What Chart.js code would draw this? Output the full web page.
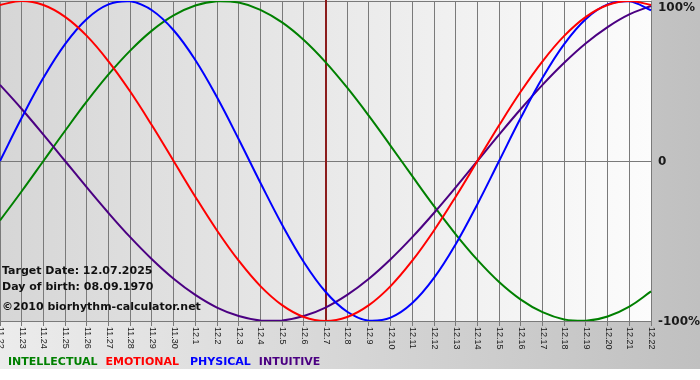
<!DOCTYPE html>
<html><head><meta charset="utf-8">
<script src="https://cdn.jsdelivr.net/npm/chart.js@4.4.1/dist/chart.umd.min.js"></script>
<style>html,body{margin:0;padding:0;background:#fff}canvas{display:block}</style>
</head><body>
<canvas id="c" width="700" height="380"></canvas>
<script>
// ---- data ----
const dates = ['11.22','11.23','11.24','11.25','11.26','11.27','11.28','11.29','11.30',
  '12.1','12.2','12.3','12.4','12.5','12.6','12.7','12.8','12.9','12.10','12.11','12.12',
  '12.13','12.14','12.15','12.16','12.17','12.18','12.19','12.20','12.21','12.22'];
const physical     = [0,27.0,52.0,73.1,88.8,97.9,99.8,94.2,81.7,63.1,39.8,13.6,-13.6,-39.8,-63.1,-81.7,-94.2,-99.8,-97.9,-88.8,-73.1,-52.0,-27.0,0,27.0,52.0,73.1,88.8,97.9,99.8,94.2];
const emotional    = [97.5,100,97.5,90.1,78.2,62.3,43.4,22.3,0,-22.3,-43.4,-62.3,-78.2,-90.1,-97.5,-100,-97.5,-90.1,-78.2,-62.3,-43.4,-22.3,0,22.3,43.4,62.3,78.2,90.1,97.5,100,97.5];
const intellectual = [-37.2,-18.9,0,18.9,37.2,54.1,69.0,81.5,91.0,97.2,99.9,99.0,94.5,86.6,75.6,61.8,45.8,28.2,9.5,-9.5,-28.2,-45.8,-61.8,-75.6,-86.6,-94.5,-99.0,-99.9,-97.2,-91.0,-81.5];
const intuitive    = [47.6,32.5,16.5,0,-16.5,-32.5,-47.6,-61.4,-73.6,-83.7,-91.6,-96.9,-99.7,-99.7,-96.9,-91.6,-83.7,-73.6,-61.4,-47.6,-32.5,-16.5,0,16.5,32.5,47.6,61.4,73.6,83.7,91.6,96.9];
const seriesNames  = ['INTELLECTUAL','EMOTIONAL','PHYSICAL','INTUITIVE'];
const yTickValues  = [100, 0, -100];
const yTickLabels  = ['100%', '0', '-100%'];
const targetDate   = '12.7';
const infoLines    = ['Target Date: 12.07.2025', 'Day of birth: 08.09.1970', '\u00A92010 biorhythm-calculator.net'];

const colors = {INTELLECTUAL:'#008000', EMOTIONAL:'#ff0000', PHYSICAL:'#0000ff', INTUITIVE:'#4b0082'};
const seriesData = {INTELLECTUAL:intellectual, EMOTIONAL:emotional, PHYSICAL:physical, INTUITIVE:intuitive};

const bgPlugin = {
  id:'bg',
  beforeDraw(chart){
    const ctx = chart.ctx, a = chart.chartArea;
    ctx.save();
    ctx.fillStyle = '#ffffff';
    ctx.fillRect(0,0,chart.width,chart.height);
    let g = ctx.createLinearGradient(0,0,chart.width,0);
    g.addColorStop(0,'#ececec');
    g.addColorStop(1,'#c0c0c0');
    ctx.fillStyle = g;
    ctx.fillRect(0,0,chart.width,369);
    g = ctx.createLinearGradient(a.left,0,a.right,0);
    g.addColorStop(0,'#d6d6d6');
    g.addColorStop(1,'#fcfcfc');
    ctx.fillStyle = g;
    ctx.fillRect(a.left,a.top-1,a.right-a.left,a.bottom-a.top+1);
    ctx.restore();
  },
  beforeDatasetsDraw(chart){
    const ctx = chart.ctx, a = chart.chartArea, xs = chart.scales.x;
    const x = Math.round(xs.getPixelForValue(dates.indexOf(targetDate)));
    ctx.save();
    ctx.strokeStyle = '#8b1c1c';
    ctx.lineWidth = 2;
    ctx.beginPath();
    ctx.moveTo(x, a.top-1);
    ctx.lineTo(x, a.bottom);
    ctx.stroke();
    ctx.restore();
  },
  afterDraw(chart){
    const ctx = chart.ctx, a = chart.chartArea, xs = chart.scales.x, ys = chart.scales.y;
    ctx.save();
    // x tick labels, rotated clockwise
    ctx.fillStyle = '#1a1a1a';
    ctx.font = "9px 'Liberation Sans'";
    ctx.textAlign = 'left';
    ctx.textBaseline = 'middle';
    dates.forEach((d,i)=>{
      const x = xs.getPixelForValue(i);
      ctx.save();
      ctx.translate(x+0.5, a.bottom+6);
      ctx.rotate(Math.PI/2);
      ctx.fillText(d,0,0);
      ctx.restore();
    });
    // y labels on the right
    ctx.font = "bold 12px 'DejaVu Sans'";
    ctx.fillStyle = '#1a1a1a';
    yTickValues.forEach((v,i)=>{
      let y = ys.getPixelForValue(v);
      if (y < a.top + 6) y = a.top + 6;
      ctx.fillText(yTickLabels[i], a.right + 7, y + 1);
    });
    // info text
    ctx.font = "bold 11px 'DejaVu Sans'";
    ctx.fillStyle = '#111';
    const infoY = [271, 287, 307];
    infoLines.forEach((t,i)=>ctx.fillText(t, 2, infoY[i]));
    // legend
    let lx = 8;
    const gaps = [8, 11, 8, 0];
    seriesNames.forEach((n,i)=>{
      ctx.fillStyle = colors[n];
      ctx.fillText(n, lx, 362);
      lx += ctx.measureText(n).width + gaps[i];
    });
    ctx.restore();
  }
};

const order = ['EMOTIONAL','PHYSICAL','INTUITIVE','INTELLECTUAL'];
new Chart(document.getElementById('c').getContext('2d'), {
  type:'line',
  data:{
    labels: dates,
    datasets: order.map(n=>({label:n, data:seriesData[n], borderColor:colors[n], backgroundColor:colors[n]}))
  },
  options:{
    responsive:false, animation:false, devicePixelRatio:1,
    layout:{padding:{top:1,left:0,right:0,bottom:0}},
    plugins:{legend:{display:false}, tooltip:{enabled:false}},
    elements:{point:{radius:0,hoverRadius:0}, line:{borderWidth:2, tension:0.4, fill:false}},
    scales:{
      x:{type:'category', offset:false,
         ticks:{display:false},
         grid:{color:'#7a7a7a', lineWidth:1, drawTicks:true, tickLength:5, tickColor:'#7a7a7a'},
         border:{color:'#7a7a7a'},
         afterFit(s){ s.height = 59; }},
      y:{position:'right', min:-100, max:100,
         ticks:{display:false, stepSize:100},
         grid:{color:'#7a7a7a', lineWidth:1, drawTicks:false},
         border:{color:'#7a7a7a'},
         afterFit(s){ s.width = 49; }}
    }
  },
  plugins:[bgPlugin]
});
</script>
</body></html>
